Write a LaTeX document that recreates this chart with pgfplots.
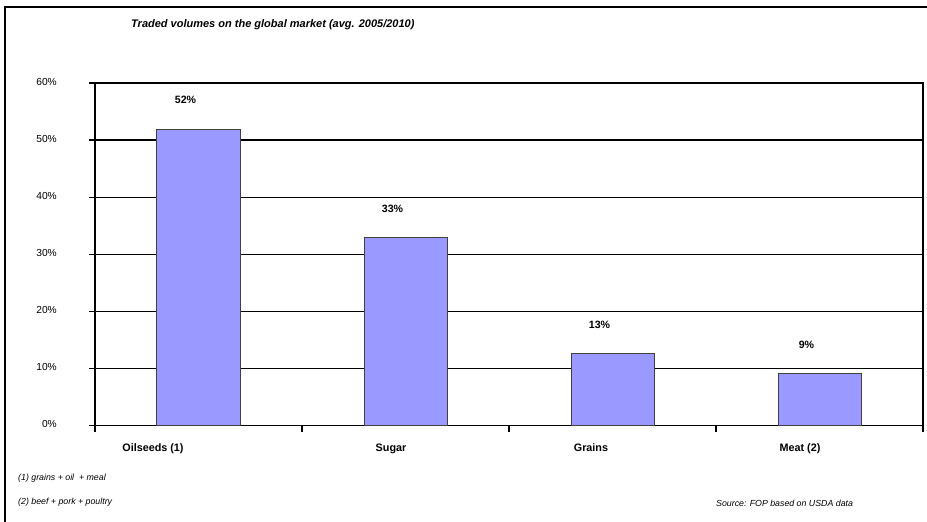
\documentclass[border=0pt]{standalone}
\usepackage{fontspec}
\setmainfont{Liberation Sans}
\usepackage{pgfplots}
\pgfplotsset{compat=1.18}
\definecolor{barblue}{HTML}{9999FF}
\definecolor{baredge}{HTML}{404040}
\begin{document}
\begin{tikzpicture}
\useasboundingbox (0pt,0pt) rectangle (927pt,522pt);
\draw[line width=2pt] (5pt,0pt) -- (5pt,515pt) -- (927pt,515pt);
\begin{axis}[
  at={(95pt,96.3pt)}, anchor=south west,
  width=828pt, height=342.7pt, scale only axis,
  xmin=-0.5, xmax=3.5, ymin=0, ymax=60,
  axis line style={line width=1.6pt},
  xtick={-0.5,0.5,1.5,2.5,3.5}, xticklabels={},
  extra x ticks={-0.22,0.93,1.896,2.906},
  extra x tick labels={Oilseeds (1),Sugar,Grains,Meat (2)},
  extra x tick style={major tick length=0pt, grid=none,
    tick label style={font=\bfseries\fontsize{10.8}{12}\selectfont, anchor=base, inner sep=0pt, yshift=-26pt}},
  ytick={0,10,20,30,40,50,60},
  yticklabels={0\%,10\%,20\%,30\%,40\%,50\%,60\%},
  yticklabel style={font=\fontsize{10.2}{12}\selectfont, anchor=east, inner sep=0pt, xshift=-32pt, yshift=1.5pt},
  tick align=outside, major tick length=6pt,
  tick style={line width=1.3pt, black},
  xtick pos=bottom, ytick pos=left,
  ymajorgrids, grid style={line width=1.3pt, black},
  /pgf/number format/assume math mode=true,
  clip=false,
]
\addplot[ybar, bar width=83pt, bar shift=0pt, fill=barblue, draw=baredge, line width=1pt,
  point meta=explicit symbolic,
  nodes near coords,
  every node near coord/.style={font=\bfseries\fontsize{10.6}{12}\selectfont, anchor=center, xshift=-13pt, yshift=29pt, text=black}]
  coordinates {(0,51.9) [52\%] (1,32.9) [33\%] (2,12.6) [13\%] (3,9.1) [9\%]};
\end{axis}
\node[anchor=west, inner sep=0pt, font=\bfseries\itshape\fontsize{11}{13}\selectfont] at (131pt,497pt) {Traded volumes on the global market (avg. 2005/2010)};
\node[anchor=west, inner sep=0pt, font=\itshape\fontsize{8.8}{10}\selectfont] at (18pt,44pt) {(1) grains + oil~ + meal};
\node[anchor=west, inner sep=0pt, font=\itshape\fontsize{8.8}{10}\selectfont] at (18pt,20pt) {(2) beef + pork + poultry};
\node[anchor=west, inner sep=0pt, font=\itshape\fontsize{8.8}{10}\selectfont] at (716pt,19pt) {Source: FOP based on USDA data};
\end{tikzpicture}
\end{document}
